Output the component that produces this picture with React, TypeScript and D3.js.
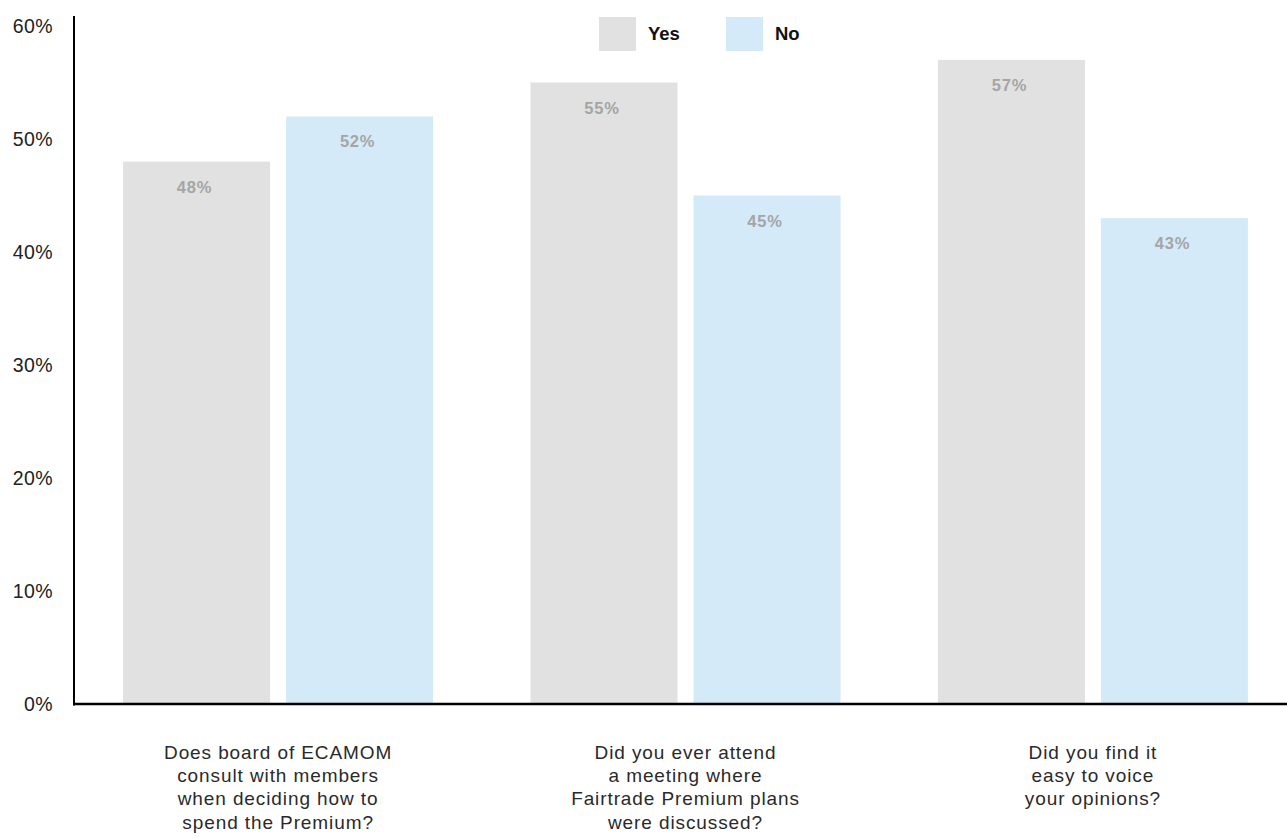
import React from "react";
import * as d3 from "d3";

const categories: string[][] = [
  ["Does board of ECAMOM", "consult with members", "when deciding how to", "spend the Premium?"],
  ["Did you ever attend", "a meeting where", "Fairtrade Premium plans", "were discussed?"],
  ["Did you find it", "easy to voice", "your opinions?"],
];
const seriesNames = ["Yes", "No"];
const yesValues = [48, 55, 57];
const noValues = [52, 45, 43];
const yTicks = [0, 10, 20, 30, 40, 50, 60];
const colors = ["#e1e1e1", "#d4eaf8"];

const W = 1287;
const H = 838;
const FONT = "'Liberation Sans', Arial, Helvetica, sans-serif";

export default function App() {
  const left = 74;
  const baseY = 704;
  const x0 = d3.scaleBand<number>().domain([0, 1, 2]).range([75, 1296]).paddingInner(0.239).paddingOuter(0.118);
  const x1 = d3.scaleBand<number>().domain([0, 1]).range([0, x0.bandwidth()]).paddingInner(0.098);
  const y = d3.scaleLinear().domain([0, 60]).range([baseY, 26]);
  const series = [yesValues, noValues];

  return (
    <svg width={W} height={H} style={{ position: "absolute", left: 0, top: 0, fontFamily: FONT }}>
      {yTicks.map((t) => (
        <text key={t} x={53} y={y(t)} dy="0.35em" textAnchor="end" fontSize={19.5} letterSpacing={0.4} fill="#222">
          {t}%
        </text>
      ))}
      {series.map((vals, si) =>
        vals.map((v, ci) => {
          const bx = (x0(ci) as number) + (x1(si) as number);
          return (
            <g key={`${si}-${ci}`}>
              <rect x={bx} y={y(v)} width={x1.bandwidth()} height={baseY - y(v)} fill={colors[si]} />
              <text x={bx + x1.bandwidth() / 2 - 2} y={y(v) + 31} textAnchor="middle" fontSize={16.5} fontWeight="bold" letterSpacing={0.8} fill="#a5a5a5">
                {v}%
              </text>
            </g>
          );
        })
      )}
      <line x1={left} x2={left} y1={16} y2={baseY + 1.5} stroke="#000" strokeWidth={2} />
      <line x1={left - 1} x2={W} y1={baseY} y2={baseY} stroke="#000" strokeWidth={2.5} />
      {categories.map((lines, ci) => {
        const cx = (x0(ci) as number) + x0.bandwidth() / 2;
        return (
          <text key={ci} textAnchor="middle" fontSize={19} letterSpacing={0.9} fill="#2a2a2a">
            {lines.map((ln, li) => (
              <tspan key={li} x={cx} y={759 + li * 23.2}>
                {ln}
              </tspan>
            ))}
          </text>
        );
      })}
      {seriesNames.map((n, i) => (
        <g key={n} transform={`translate(${599 + i * 127},17)`}>
          <rect width={37} height={34} fill={colors[i]} />
          <text x={49} y={17} dy="0.35em" fontSize={18.5} fontWeight="bold" fill="#111">
            {n}
          </text>
        </g>
      ))}
    </svg>
  );
}
